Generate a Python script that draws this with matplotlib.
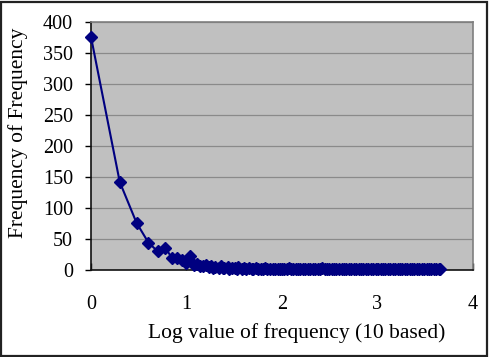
import matplotlib
matplotlib.use("Agg")
import matplotlib.pyplot as plt
import numpy as np
from matplotlib.patches import Rectangle

# frequency k and how many items occur exactly k times
freq = [1, 2, 3, 4, 5, 6, 7, 8, 9, 10, 11, 12, 13, 14, 15, 16, 17, 18, 19, 20,
        22, 23, 24, 25, 27, 28, 30, 32, 34, 35, 38, 40, 42, 45, 48, 50, 53, 56,
        60, 63, 67, 70, 75, 80, 85, 90, 96, 100, 105, 112, 118, 125, 131, 140,
        148, 156, 165, 176, 185, 198, 210, 221, 236, 250, 262, 280, 297, 313,
        330, 352, 371, 395, 420, 441, 470, 502, 530, 561, 598, 635, 671, 712,
        760, 803, 851, 902, 958, 1015, 1080, 1142, 1210, 1285, 1360, 1440,
        1530, 1625, 1720, 1820, 1935, 2050, 2175, 2300, 2440, 2590, 2745, 2910,
        3085, 3270, 3465, 3672, 3890, 4125, 4380, 4470]
count = [376, 142, 76, 44, 30, 36, 20, 19, 16, 12, 22, 8, 9, 7, 6, 8, 5, 6, 4, 5,
         3, 6, 4, 3, 5, 2, 4, 3, 2, 5, 2, 3, 2, 3, 2, 1, 3, 2,
         2, 1, 3, 1, 2, 1, 2, 1, 2, 1, 2, 1, 3, 1, 2, 1,
         1, 2, 1, 1, 2, 1, 1, 1, 2, 1, 3, 1, 1, 2,
         1, 1, 2, 1, 1, 1, 1, 2, 1, 1, 1, 1, 1, 1,
         1, 1, 2, 1, 1, 1, 1, 1, 1, 1, 1, 1,
         1, 1, 1, 1, 1, 1, 1, 1, 1, 1, 1, 1,
         1, 1, 1, 1, 1, 1, 1, 1]

x = np.log10(freq)
y = np.array(count)

plt.rcParams["font.family"] = ["Liberation Serif", "DejaVu Serif"]

fig = plt.figure(figsize=(4.9, 3.57), dpi=100)
fig.patches.append(Rectangle((0.003, 0.004), 0.991, 0.99, transform=fig.transFigure,
                             fill=False, edgecolor="#222222", linewidth=1.6))
ax = fig.add_axes([0.1857, 0.2437, 0.7796, 0.6947])
ax.set_facecolor("#c0c0c0")

ax.plot(x, y, color="#000080", linewidth=1.5, marker="D", markersize=6,
        markeredgecolor="#000080", markerfacecolor="#000080", clip_on=False, zorder=3)

ax.set_xlim(0, 4)
ax.set_ylim(0, 400)
ax.set_xticks([0, 1, 2, 3, 4])
ax.set_yticks(np.arange(0, 401, 50))
ax.yaxis.grid(True, color="#8a8a8a", linewidth=0.9)
ax.set_axisbelow(True)

ax.tick_params(axis="y", direction="out", length=4, width=1, pad=9, labelsize=14.5)
ax.tick_params(axis="x", direction="in", length=5, width=1, pad=18, labelsize=14.5)

for s in ["left", "bottom"]:
    ax.spines[s].set_color("#111111")
    ax.spines[s].set_linewidth(1.2)
for s in ["top", "right"]:
    ax.spines[s].set_color("#7f7f7f")
    ax.spines[s].set_linewidth(1.2)

ax.text(0.539, -0.253, "Log value of frequency (10 based)", transform=ax.transAxes,
        ha="center", va="center", fontsize=15.5)
ax.text(-0.191, 0.554, "Frequency of Frequency", transform=ax.transAxes,
        ha="center", va="center", rotation=90, fontsize=15.5)

fig.savefig("out.png", dpi=100)
